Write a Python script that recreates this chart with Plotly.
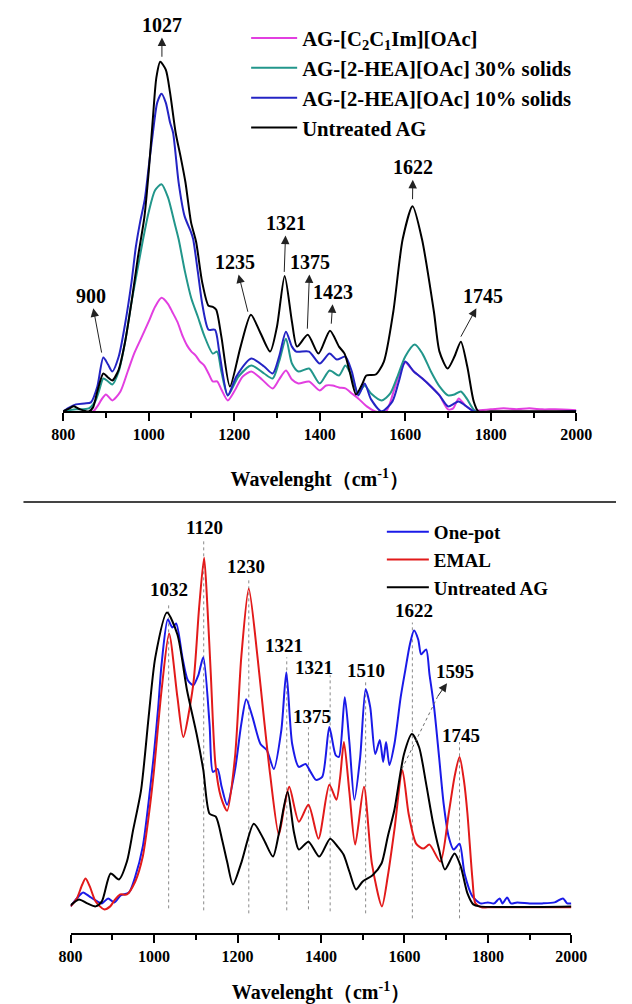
import plotly.graph_objects as go

# ---------------- Top panel data (wavenumber, intensity a.u.) ----------------
top_untreated_wn = [800, 815, 825, 840, 860, 870, 880, 894, 905, 915, 930, 945, 960, 975, 990, 1000, 1010, 1018,
                    1027, 1040, 1050, 1063, 1075, 1086, 1099, 1111, 1125, 1140, 1150, 1158, 1170, 1190, 1215, 1239,
                    1260, 1284, 1300, 1318, 1335, 1347, 1372, 1397, 1424, 1445, 1458, 1470, 1485, 1500, 1509, 1531,
                    1550, 1572, 1594, 1617, 1639, 1667, 1680, 1699, 1715, 1730, 1745, 1760, 1771, 1800, 2000]
top_untreated = [0, 3, 5, 2, 0, 4, 20, 38, 34, 31, 42, 70, 110, 155, 195, 240, 295, 335,
                 351, 343, 320, 280, 255, 230, 190, 170, 130, 106, 105, 102, 75, 25, 65, 97,
                 80, 60, 85, 136, 90, 65, 77, 58, 81, 65, 58, 40, 17, 28, 36, 37,
                 50, 100, 173, 206, 173, 100, 60, 43, 55, 70, 45, 10, 0, 0, 0]

top_hea10_wn = [800, 815, 830, 850, 865, 880, 894, 905, 915, 930, 945, 960, 970, 980, 991, 1000, 1010, 1020,
                1030, 1040, 1050, 1057, 1070, 1084, 1099, 1104, 1115, 1126, 1140, 1155, 1165, 1185, 1205, 1240,
                1270, 1290, 1305, 1321, 1335, 1345, 1375, 1400, 1423, 1440, 1460, 1475, 1490, 1505, 1520, 1545,
                1570, 1585, 1600, 1620, 1640, 1660, 1680, 1700, 1715, 1725, 1740, 1760, 2000]
top_hea10 = [0, 4, 7, 8, 9, 25, 54, 47, 40, 55, 88, 130, 165, 190, 213, 245, 280, 310,
             319, 310, 290, 280, 230, 196, 180, 173, 140, 106, 82, 82, 60, 16, 35, 53,
             45, 38, 55, 80, 65, 60, 60, 48, 58, 52, 55, 40, 16, 28, 12, 0,
             10, 30, 50, 40, 33, 25, 16, 5, 8, 10, 6, 0, 0]

top_hea30_wn = [800, 830, 860, 875, 885, 894, 905, 915, 930, 945, 960, 975, 987, 1000, 1015, 1030, 1045, 1060,
                1070, 1085, 1100, 1115, 1130, 1150, 1160, 1170, 1185, 1210, 1240, 1270, 1290, 1305, 1321, 1335,
                1350, 1375, 1400, 1423, 1445, 1460, 1475, 1490, 1505, 1520, 1545, 1565, 1580, 1600, 1622, 1640,
                1660, 1680, 1700, 1715, 1730, 1745, 1765, 2000]
top_hea30 = [0, 2, 3, 10, 22, 33, 30, 27, 40, 70, 110, 145, 173, 200, 222, 228, 215, 190,
             173, 140, 113, 95, 76, 58, 60, 40, 16, 35, 46, 38, 33, 50, 73, 48,
             40, 43, 28, 41, 36, 46, 35, 18, 26, 18, 11, 18, 33, 55, 67, 58,
             40, 25, 16, 17, 20, 12, 0, 0]

top_c2c1im_wn = [800, 870, 880, 890, 900, 915, 934, 951, 966, 982, 1000, 1015, 1030, 1045, 1055, 1067, 1080, 1090,
                 1100, 1110, 1120, 1130, 1140, 1150, 1160, 1170, 1185, 1200, 1220, 1240, 1265, 1290, 1305, 1321,
                 1335, 1350, 1375, 1400, 1415, 1430, 1445, 1460, 1475, 1490, 1510, 1530, 1555, 1575, 1590, 1600,
                 1620, 1640, 1660, 1680, 1700, 1712, 1725, 1740, 1750, 1760, 1800, 1830, 1860, 1890, 1920, 1950,
                 2000]
top_c2c1im = [0, 0, 5, 12, 17, 11, 20, 40, 58, 73, 90, 105, 114, 108, 100, 90, 75, 66,
              60, 56, 50, 46, 38, 30, 30, 22, 11, 20, 35, 40, 32, 23, 32, 41,
              32, 28, 30, 21, 26, 26, 24, 23, 18, 13, 5, 0, 0, 23, 42, 49,
              40, 33, 25, 16, 2, 3, 13, 6, 3, 1, 2, 3, 2, 3, 2, 2,
              1]

# Top panel peak labels: label text position and arrow tail (on the peak)
top_peaks = ["1027", "900", "1235", "1321", "1375", "1423", "1622", "1745"]
top_text_x = [1031, 865, 1203, 1321, 1377, 1432, 1618, 1782]
top_text_y = [388, 116, 150, 189, 150, 120, 245, 116]
top_tail_x = [1031, 890, 1232, 1317, 1371, 1427, 1617, 1730]
top_tail_y = [356, 59, 100, 140, 83, 88, 213, 75]

# ---------------- Bottom panel data ----------------
bot_onepot_wn = [800, 815, 830, 845, 860, 875, 890, 905, 920, 940,
                 955, 973, 987, 999, 1010, 1018, 1033, 1044, 1053, 1068,
                 1081, 1094, 1106, 1118, 1133, 1141, 1152, 1162, 1175, 1194,
                 1209, 1221, 1236, 1255, 1270, 1287, 1305, 1317, 1331, 1347,
                 1363, 1375, 1388, 1403, 1420, 1435, 1443, 1457, 1468, 1480,
                 1494, 1507, 1518, 1530, 1541, 1549, 1556, 1564, 1576, 1591,
                 1602, 1613, 1623, 1633, 1640, 1652, 1660, 1671, 1683, 1694,
                 1706, 1718, 1732, 1744, 1763, 1782, 1800, 1815, 1828, 1835,
                 1846, 1855, 1870, 1900, 1930, 1960, 1980, 1990, 2000]
bot_onepot = [0, 8, 14, 10, 6, 3, 8, 4, 11, 14,
              30, 60, 105, 150, 200, 243, 288, 280, 284, 250,
              227, 222, 232, 250, 183, 135, 138, 120, 102, 137,
              183, 208, 190, 163, 157, 138, 177, 235, 163, 140,
              143, 135, 127, 130, 180, 152, 150, 210, 165, 107,
              150, 218, 200, 153, 167, 145, 165, 142, 163, 210,
              237, 263, 277, 268, 253, 258, 233, 200, 150, 103,
              70, 57, 63, 33, 10, 3, 4, 3, 8, 3,
              9, 3, 4, 3, 3, 4, 8, 3, 3]

bot_emal_wn = [800, 815, 828, 836, 846, 860, 880, 895, 905, 919,
               935, 955, 973, 987, 999, 1018, 1036, 1056, 1070, 1094,
               1108, 1120, 1128, 1136, 1147, 1160, 1175, 1194, 1209, 1227,
               1248, 1263, 1278, 1299, 1312, 1324, 1347, 1370, 1394, 1420,
               1437, 1446, 1455, 1468, 1482, 1503, 1522, 1546, 1560, 1576,
               1595, 1610, 1628, 1645, 1660, 1686, 1706, 1720, 1732, 1743,
               1751, 1763, 1770, 1785, 1800, 2000]
bot_emal = [0, 8, 22, 28, 20, 5, -3, 0, 6, 12,
            12, 25, 50, 90, 133, 217, 274, 210, 170, 223,
            300, 350, 300, 233, 143, 110, 96, 150, 250, 319,
            250, 190, 133, 72, 100, 120, 85, 102, 68, 122,
            107, 130, 165, 115, 62, 120, 43, 0, 30, 77,
            137, 93, 63, 58, 62, 45, 93, 130, 150, 125,
            93, 27, 3, -1, -1, -1]

bot_untreated_wn = [800, 820, 840, 860, 875, 896, 916, 935, 950, 969,
                    987, 1003, 1031, 1056, 1079, 1102, 1118, 1133, 1148, 1163,
                    1175, 1189, 1210, 1239, 1262, 1285, 1300, 1320, 1335, 1347,
                    1370, 1396, 1422, 1440, 1454, 1468, 1484, 1500, 1523, 1545,
                    1560, 1576, 1599, 1618, 1635, 1652, 1668, 1683, 1697, 1720,
                    1735, 1751, 1765, 1780, 2000]
bot_untreated = [1, 7, 3, 0, 5, 33, 27, 45, 77, 117,
                 190, 250, 295, 273, 217, 173, 137, 93, 90, 67,
                 45, 22, 45, 83, 68, 50, 75, 115, 75, 57,
                 65, 50, 68, 60, 52, 35, 17, 25, 31, 43,
                 70, 97, 153, 173, 160, 123, 85, 57, 37, 53,
                 40, 13, 2, 0, 0]

# Bottom panel labels with dotted guide lines
bot_labels = ["1032", "1120", "1230", "1321", "1321", "1375", "1510", "1622", "1745"]
bot_label_x = [1036, 1121, 1221, 1312, 1383, 1378, 1507, 1622, 1736]
bot_label_y = [318, 380, 341, 262, 240, 191, 237, 297, 172]
bot_guide_x = [1035, 1119, 1227, 1318, 1422, 1370, 1507, 1619, 1732]
bot_guide_top = [305, 368, 328, 250, 232, 180, 228, 285, 165]
bot_guide_bottom = [-2, -4, -7, -4, -5, -3, -7, -12, -12]

# 1595 dotted arrow (from the EMAL peak up to the label)
arrow_1595_label = "1595"
arrow_1595_text = (1722, 236)
arrow_1595_tail = (1594, 138)
arrow_1595_head = (1680, 211)

ticks = [800, 1000, 1200, 1400, 1600, 1800, 2000]

SERIF = "Liberation Serif, Times New Roman, serif"
W, H = 632, 1004


def px_x(v):
    return v / W


def px_y(v):
    return 1 - v / H


fig = go.Figure()

top_series = [
    ("AG-[C<sub>2</sub>C<sub>1</sub>Im][OAc]", top_c2c1im_wn, top_c2c1im, "#E23FE0"),
    ("AG-[2-HEA][OAc] 30% solids", top_hea30_wn, top_hea30, "#22968B"),
    ("AG-[2-HEA][OAc] 10% solids", top_hea10_wn, top_hea10, "#2424C4"),
    ("Untreated AG", top_untreated_wn, top_untreated, "#000000"),
]
for name, xs, ys, col in top_series:
    fig.add_trace(go.Scatter(x=xs, y=ys, name=name, mode="lines", xaxis="x", yaxis="y",
                             line=dict(color=col, width=2, shape="spline", smoothing=0.7),
                             legend="legend"))

bot_series = [
    ("One-pot", bot_onepot_wn, bot_onepot, "#1A1AE8"),
    ("EMAL", bot_emal_wn, bot_emal, "#E21A1A"),
    ("Untreated AG", bot_untreated_wn, bot_untreated, "#000000"),
]
for name, xs, ys, col in bot_series:
    fig.add_trace(go.Scatter(x=xs, y=ys, name=name, mode="lines", xaxis="x2", yaxis="y2",
                             line=dict(color=col, width=2, shape="spline", smoothing=0.7),
                             legend="legend2"))

axis_font = dict(family=SERIF, size=16, color="black", weight="bold")
title_font = dict(family=SERIF, size=20, color="black", weight="bold")

common_x = dict(
    tickvals=ticks, ticks="outside", ticklen=8, tickwidth=1.5, tickcolor="black",
    showline=True, linecolor="black", linewidth=1.5, showgrid=False, zeroline=False,
    tickfont=axis_font,
    minor=dict(dtick=100, tick0=800, ticks="outside", ticklen=5, tickwidth=1.5, tickcolor="black", showgrid=False),
)

fig.update_layout(
    width=W, height=H,
    margin=dict(l=0, r=0, t=0, b=0),
    paper_bgcolor="white", plot_bgcolor="white",
    xaxis=dict(domain=[53.5 / W, 590.5 / W], range=[800, 2000], anchor="y",
               title=dict(text="Wavelenght（cm<sup>-1</sup>）", font=title_font, standoff=30), **common_x),
    yaxis=dict(domain=[px_y(413), px_y(5)], range=[0, 408], visible=False),
    xaxis2=dict(domain=[61.3 / W, 585.3 / W], range=[800, 2000], anchor="y2",
                title=dict(text="Wavelenght（cm<sup>-1</sup>）", font=title_font, standoff=25), **common_x),
    yaxis2=dict(domain=[px_y(937), px_y(515)], range=[-27, 395], visible=False),
    legend=dict(x=px_x(245), y=px_y(18), xanchor="left", yanchor="top",
                font=dict(family=SERIF, size=20.7, color="black", weight="bold"),
                bgcolor="rgba(0,0,0,0)", itemwidth=46, tracegroupgap=0),
    legend2=dict(x=px_x(387), y=px_y(515), xanchor="left", yanchor="top",
                 font=dict(family=SERIF, size=19, color="black", weight="bold"),
                 bgcolor="rgba(0,0,0,0)", itemwidth=42, tracegroupgap=0),
    showlegend=True,
)

annotations = []
shapes = []

# Top panel: label with an arrow rising from the peak to the label
for lab, tx, ty, ax_, ay_ in zip(top_peaks, top_text_x, top_text_y, top_tail_x, top_tail_y):
    annotations.append(dict(x=ax_, y=ay_, ax=tx, ay=ty, xref="x", yref="y", axref="x", ayref="y",
                            text=lab, showarrow=True, arrowside="start",
                            startarrowhead=2, startarrowsize=1.7, arrowwidth=1, arrowcolor="#222222",
                            standoff=0, startstandoff=1, borderpad=0,
                            font=dict(family=SERIF, size=20, color="black", weight="bold")))

# Bottom panel dotted guides + labels
for lab, lx, ly, gx, gt, gb in zip(bot_labels, bot_label_x, bot_label_y, bot_guide_x, bot_guide_top,
                                   bot_guide_bottom):
    shapes.append(dict(type="line", xref="x2", yref="y2", x0=gx, x1=gx, y0=gb, y1=gt,
                       line=dict(color="#8a8a8a", width=1, dash="dot"), layer="below"))
    annotations.append(dict(x=lx, y=ly, xref="x2", yref="y2", text=lab, showarrow=False,
                            font=dict(family=SERIF, size=19, color="black", weight="bold")))

# 1595: dotted line from the EMAL peak, arrowhead at the label
shapes.append(dict(type="line", xref="x2", yref="y2", x0=arrow_1595_tail[0], y0=arrow_1595_tail[1],
                   x1=arrow_1595_head[0], y1=arrow_1595_head[1],
                   line=dict(color="#6a6a6a", width=1, dash="dot")))
annotations.append(dict(x=arrow_1595_head[0], y=arrow_1595_head[1], ax=arrow_1595_text[0], ay=arrow_1595_text[1],
                        xref="x2", yref="y2", axref="x2", ayref="y2",
                        text=arrow_1595_label, showarrow=True, arrowside="start",
                        startarrowhead=2, startarrowsize=1.7, arrowwidth=1, arrowcolor="#222222",
                        standoff=0, startstandoff=1, borderpad=0,
                        font=dict(family=SERIF, size=19, color="black", weight="bold")))

# Separator line between the panels
shapes.append(dict(type="line", xref="paper", yref="paper", x0=px_x(12), x1=1, y0=px_y(504), y1=px_y(504),
                   line=dict(color="#444444", width=2)))

fig.update_layout(annotations=annotations, shapes=shapes)

fig.write_html("out.html")
